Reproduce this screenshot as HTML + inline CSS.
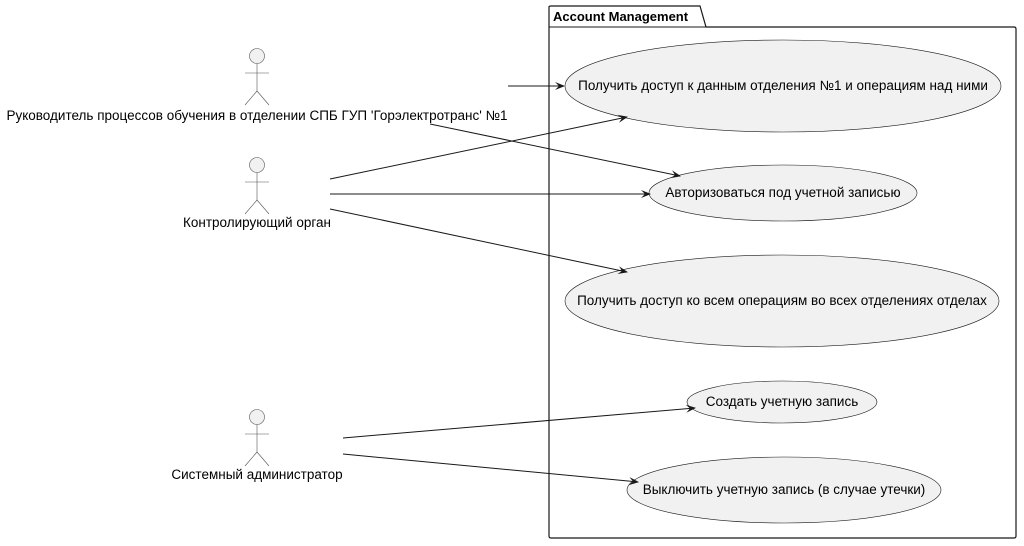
<!DOCTYPE html>
<html><head><meta charset="utf-8"><style>body{margin:0;background:#fff}svg{display:block}text{font-family:"Liberation Sans",Arial,sans-serif;font-size:13.5px;fill:#000}</style></head>
<body>
<svg width="1024" height="546" viewBox="0 0 1024 546" xmlns="http://www.w3.org/2000/svg">
<defs><marker id="a" viewBox="0 0 10 10" refX="9" refY="5" markerWidth="10" markerHeight="10" orient="auto" markerUnits="userSpaceOnUse"><path d="M0,1 L10,5 L0,9 L4,5 Z" fill="#181818"/></marker></defs>
<g fill="none" stroke="#181818" stroke-width="1">
<path d="M549,27 L549,7 Q549,6 551,6 L700,6 L706,27 L1014,27 Q1016,27 1016,29 L1016,536 Q1016,538 1014,538 L551,538 Q549,538 549,536 Z" stroke-width="1.2"/>
<line x1="549" y1="27" x2="706" y2="27"/>
</g>
<text x="553" y="21" style="font-weight:bold;font-size:13px">Account Management</text>
<g fill="#f1f1f1" stroke="#181818" stroke-width="0.6">
<ellipse cx="783" cy="86" rx="218" ry="46"/>
<ellipse cx="783" cy="193" rx="134" ry="28"/>
<ellipse cx="782" cy="301" rx="217" ry="46"/>
<ellipse cx="782" cy="402" rx="95" ry="21"/>
<ellipse cx="784" cy="490" rx="157" ry="33"/>
</g>
<g text-anchor="middle">
<text x="783" y="90">Получить доступ к данным отделения №1 и операциям над ними</text>
<text x="783" y="197">Авторизоваться под учетной записью</text>
<text x="782" y="305">Получить доступ ко всем операциям во всех отделениях отделах</text>
<text x="782" y="406">Создать учетную запись</text>
<text x="784" y="494">Выключить учетную запись (в случае утечки)</text>
<text x="257" y="120">Руководитель процессов обучения в отделении СПБ ГУП 'Горэлектротранс' №1</text>
<text x="257" y="227">Контролирующий орган</text>
<text x="257" y="479">Системный администратор</text>
</g>
<g stroke="#181818" stroke-width="1" marker-end="url(#a)">
<line x1="508" y1="86" x2="564" y2="86"/>
<line x1="430" y1="124" x2="680" y2="176"/>
<line x1="330" y1="179" x2="627" y2="117"/>
<line x1="330" y1="194" x2="650" y2="194"/>
<line x1="330" y1="209" x2="627" y2="272"/>
<line x1="343" y1="438" x2="695" y2="408"/>
<line x1="343" y1="454" x2="638" y2="482"/>
</g>
<g fill="none" stroke="#555" stroke-width="0.6">
<g id="act" transform="translate(257,56)">
<circle cx="0" cy="0" r="7.5" fill="#f1f1f1"/>
<line x1="0" y1="7.5" x2="0" y2="35"/>
<line x1="-12" y1="17" x2="12" y2="17"/>
<line x1="0" y1="35" x2="-12" y2="49"/>
<line x1="0" y1="35" x2="12" y2="49"/>
</g>
<use href="#act" transform="translate(0,109)"/>
<use href="#act" transform="translate(0,361)"/>
</g>
</svg>
</body></html>
